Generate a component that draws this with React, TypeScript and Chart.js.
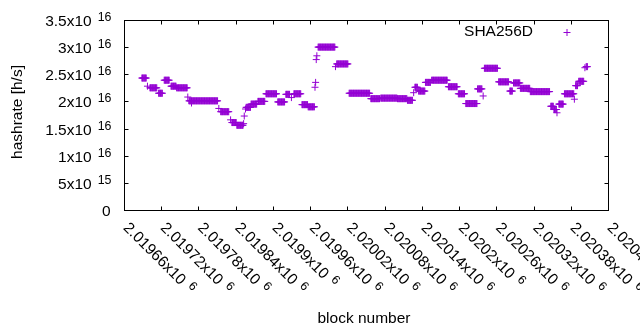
import React, { useEffect, useRef } from "react";
import { Chart, registerables } from "chart.js";

Chart.register(...registerables);

// ---- data (hashrate in units of 1e16 h/s, constant over block ranges) ----
const segStart = [
  2019688, 2019697, 2019701, 2019715, 2019724, 2019735, 2019744, 2019762, 2019764, 2019768,
  2019812, 2019815, 2019831, 2019833, 2019841, 2019852, 2019853, 2019855, 2019856, 2019864,
  2019875, 2019888, 2019907, 2019920, 2019929, 2019933, 2019946, 2019956, 2019967, 2019968,
  2019969, 2019970, 2019972, 2020000, 2020002, 2020022, 2020057, 2020073, 2020100, 2020116,
  2020126, 2020128, 2020134, 2020145, 2020155, 2020182, 2020198, 2020210, 2020229, 2020238,
  2020240, 2020263, 2020281, 2020287, 2020298, 2020314, 2020347, 2020352, 2020357, 2020360,
  2020369, 2020385, 2020387, 2020392, 2020402, 2020404,
];
const segEnd = [
  2019695, 2019697, 2019712, 2019721, 2019732, 2019743, 2019761, 2019762, 2019810, 2019768,
  2019812, 2019828, 2019831, 2019840, 2019851, 2019852, 2019853, 2019855, 2019863, 2019873,
  2019886, 2019905, 2019918, 2019926, 2019929, 2019944, 2019955, 2019966, 2019967, 2019968,
  2019969, 2019970, 2019999, 2020000, 2020020, 2020055, 2020071, 2020099, 2020115, 2020124,
  2020126, 2020132, 2020144, 2020153, 2020180, 2020196, 2020208, 2020228, 2020236, 2020238,
  2020261, 2020279, 2020285, 2020297, 2020313, 2020345, 2020351, 2020356, 2020357, 2020367,
  2020384, 2020385, 2020390, 2020400, 2020402, 2020406,
];
const segValue = [
  2.44, 2.29, 2.26, 2.16, 2.40, 2.29, 2.26, 2.09, 2.02, 1.98,
  1.88, 1.82, 1.67, 1.62, 1.57, 1.60, 1.74, 1.87, 1.90, 1.96,
  2.01, 2.15, 2.00, 2.14, 2.08, 2.15, 1.95, 1.91, 2.27, 2.36,
  2.78, 2.85, 3.01, 2.65, 2.70, 2.16, 2.06, 2.07, 2.06, 2.03,
  2.17, 2.27, 2.20, 2.36, 2.40, 2.28, 2.15, 1.97, 2.24, 2.11,
  2.62, 2.37, 2.20, 2.35, 2.25, 2.19, 1.92, 1.86, 1.80, 1.96,
  2.15, 2.05, 2.30, 2.38, 2.63, 2.65,
];

const xTickValues = [
  2019660, 2019720, 2019780, 2019840, 2019900, 2019960, 2020020,
  2020080, 2020140, 2020200, 2020260, 2020320, 2020380, 2020440,
];
const xTickLabels = [
  "2.01966", "2.01972", "2.01978", "2.01984", "2.0199", "2.01996", "2.02002",
  "2.02008", "2.02014", "2.0202", "2.02026", "2.02032", "2.02038", "2.02044",
];
const xTickExp = "6";

const yTickValues = [0, 5e15, 1e16, 1.5e16, 2e16, 2.5e16, 3e16, 3.5e16];
const yTickMant = ["0", "5x10", "1x10", "1.5x10", "2x10", "2.5x10", "3x10", "3.5x10"];
const yTickExp = ["", "15", "16", "16", "16", "16", "16", "16"];

const seriesName = "SHA256D";
const xTitle = "block number";
const yTitle = "hashrate [h/s]";

const COLOR = "#9400D3";
const FONT_FAMILY = '"Liberation Sans", Arial, sans-serif';
const FS = 15.5;
const SFS = 12.4;

function buildPoints() {
  const pts: { x: number; y: number }[] = [];
  for (let i = 0; i < segStart.length; i++) {
    for (let b = segStart[i]; b <= segEnd[i]; b++) {
      pts.push({ x: b, y: segValue[i] * 1e16 });
    }
  }
  return pts;
}

const framePlugin = {
  id: "gnuplotFrame",
  afterDraw(chart: any) {
    const ctx: CanvasRenderingContext2D = chart.ctx;
    const { left, right, top, bottom } = chart.chartArea;
    const xs = chart.scales.x;
    const ys = chart.scales.y;
    const TL = 4;
    ctx.save();
    ctx.strokeStyle = "#000";
    ctx.lineWidth = 1;
    ctx.strokeRect(left, top, right - left, bottom - top);
    ctx.beginPath();
    for (const v of yTickValues) {
      const y = Math.round(ys.getPixelForValue(v) - 0.5) + 0.5;
      ctx.moveTo(left, y);
      ctx.lineTo(left + TL, y);
      ctx.moveTo(right, y);
      ctx.lineTo(right - TL, y);
    }
    for (const v of xTickValues) {
      const x = Math.round(xs.getPixelForValue(v) - 0.5) + 0.5;
      ctx.moveTo(x, bottom);
      ctx.lineTo(x, bottom - TL);
      ctx.moveTo(x, top);
      ctx.lineTo(x, top + TL);
    }
    ctx.stroke();

    ctx.fillStyle = "#000";
    // y tick labels
    const labelRight = 111.5;
    const gap = 6;
    for (let i = 0; i < yTickValues.length; i++) {
      const y = ys.getPixelForValue(yTickValues[i]);
      const base = y + 5.5;
      ctx.textBaseline = "alphabetic";
      if (yTickExp[i]) {
        ctx.font = `${SFS}px ${FONT_FAMILY}`;
        const sw = ctx.measureText(yTickExp[i]).width;
        ctx.textAlign = "left";
        ctx.fillText(yTickExp[i], labelRight - sw, base - 5);
        ctx.font = `${FS}px ${FONT_FAMILY}`;
        ctx.textAlign = "right";
        ctx.fillText(yTickMant[i], labelRight - sw - gap, base);
      } else {
        ctx.font = `${FS}px ${FONT_FAMILY}`;
        ctx.textAlign = "right";
        ctx.fillText(yTickMant[i], labelRight - 1, base);
      }
    }
    // x tick labels (rotated 45deg clockwise)
    for (let i = 0; i < xTickValues.length; i++) {
      const x = xs.getPixelForValue(xTickValues[i]);
      ctx.save();
      ctx.translate(x + 2, bottom + 14);
      ctx.rotate(Math.PI / 4);
      ctx.font = `${FS}px ${FONT_FAMILY}`;
      ctx.textAlign = "left";
      ctx.textBaseline = "alphabetic";
      const mant = xTickLabels[i] + "x10";
      ctx.fillText(mant, 0, 5.5);
      const w = ctx.measureText(mant).width;
      ctx.font = `${SFS}px ${FONT_FAMILY}`;
      ctx.fillText(xTickExp, w + gap, 0.5);
      ctx.restore();
    }
    // axis titles
    ctx.font = `${FS}px ${FONT_FAMILY}`;
    ctx.textAlign = "center";
    ctx.textBaseline = "middle";
    ctx.fillText(xTitle, 364, 319);
    ctx.save();
    ctx.translate(17.5, 112);
    ctx.rotate(-Math.PI / 2);
    ctx.fillText(yTitle, 0, 0);
    ctx.restore();
    // legend
    ctx.textAlign = "right";
    ctx.textBaseline = "middle";
    ctx.fillText(seriesName, 533, 32);
    ctx.strokeStyle = COLOR;
    ctx.beginPath();
    ctx.moveTo(563.5, 32.5);
    ctx.lineTo(570.5, 32.5);
    ctx.moveTo(567, 29);
    ctx.lineTo(567, 36);
    ctx.stroke();
    ctx.restore();
  },
};

export default function App() {
  const ref = useRef<HTMLCanvasElement>(null);
  useEffect(() => {
    if (!ref.current) return;
    const chart = new Chart(ref.current, {
      type: "scatter",
      data: {
        datasets: [
          {
            label: seriesName,
            data: buildPoints(),
            pointStyle: "cross",
            pointRadius: 3.5,
            pointBorderWidth: 1,
            borderColor: COLOR,
            backgroundColor: COLOR,
            showLine: false,
          },
        ],
      },
      options: {
        animation: false,
        responsive: false,
        devicePixelRatio: 1,
        layout: { padding: { left: 124.5, right: 31.5, top: 20.5, bottom: 119.5 } },
        plugins: { legend: { display: false }, tooltip: { enabled: false } },
        events: [],
        scales: {
          x: { type: "linear", min: 2019660, max: 2020440, display: false },
          y: { type: "linear", min: 0, max: 3.5e16, display: false },
        },
      },
      plugins: [framePlugin],
    });
    return () => chart.destroy();
  }, []);
  return (
    <div style={{ position: "fixed", left: 0, top: 0, width: 640, height: 330, background: "#fff" }}>
      <canvas ref={ref} width={640} height={330} style={{ width: 640, height: 330, display: "block" }} />
    </div>
  );
}
